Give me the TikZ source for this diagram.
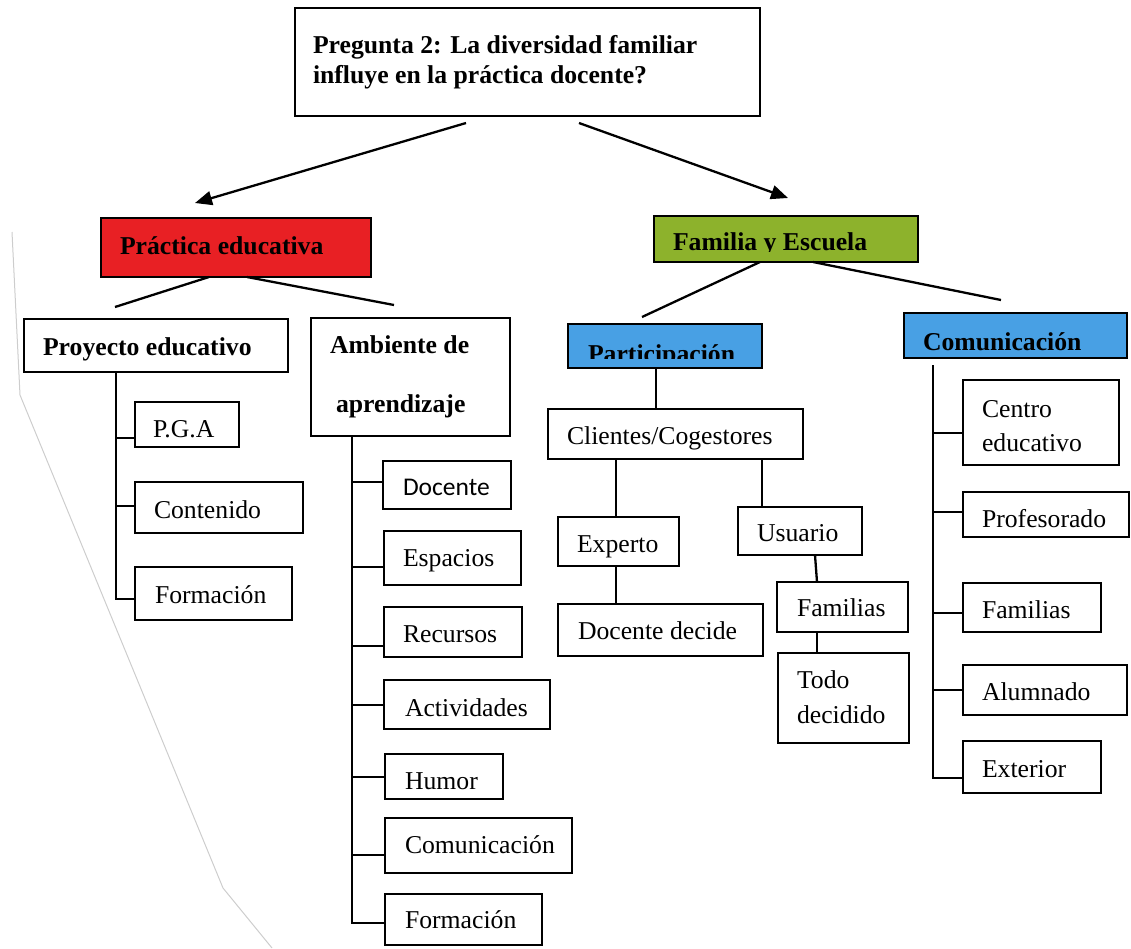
\documentclass[tikz,border=0pt]{standalone}
\usepackage{fontspec}
\setmainfont{Liberation Serif}
\newfontfamily\calfont{Carlito}
\usetikzlibrary{arrows.meta}
\definecolor{cred}{RGB}{232,32,36}
\definecolor{cgreen}{RGB}{141,178,44}
\definecolor{cblue}{RGB}{72,160,228}
\definecolor{cscan}{RGB}{205,205,205}
\newcommand\mkbox[6][]{%
  \node[boxst,#1,minimum width={#5-#3},minimum height={#6-#4}] (#2) at ({(#3+#5)/2},{(#4+#6)/2}) {};}
\begin{document}
\begin{tikzpicture}[x=1pt,y=-1pt,
  boxst/.style={draw=black,line width=2.2pt,inner sep=0pt,outer sep=0pt,fill=white},
  conn/.style={draw=black,line width=2.3pt},
  arr/.style={conn,-{Triangle[length=17pt,width=14pt]}},
  txt/.style={anchor=base west,inner sep=0pt,outer sep=0pt,font=\fontsize{25.7}{29.6}\selectfont},
  txtb/.style={txt,font=\fontsize{25.7}{29.6}\selectfont\bfseries},
  txts/.style={txt,font=\fontsize{25.5}{29}\selectfont\calfont}]
\useasboundingbox (0,0) rectangle (1131,948);
% scan edge
\draw[cscan,line width=1pt] (12,232) -- (20,395) -- (223,888) -- (272,948);
% title
\mkbox{title}{295}{8}{760}{116}
\node[txtb] (t1) at (313,53) {Pregunta 2: La diversidad familiar};
\node[txtb] (t2) at (313,83) {influye en la práctica docente?};
\coordinate (as1) at (466,123); \coordinate (ae1) at (195,203);
\coordinate (as2) at (579,123); \coordinate (ae2) at (788,198);
\draw[arr] (as1) -- (ae1);
\draw[arr] (as2) -- (ae2);
% Practica educativa
\mkbox[fill=cred]{pe}{101}{218}{371}{277}
\node[txtb] (tpe) at (120,254) {Práctica educativa};
\coordinate (pe1) at (209,277); \coordinate (pe1e) at (115,307);
\coordinate (pe2) at (247,277); \coordinate (pe2e) at (394,305);
\draw[conn] (pe1) -- (pe1e);
\draw[conn] (pe2) -- (pe2e);
% Proyecto educativo
\mkbox{proy}{24}{319}{288}{372}
\node[txtb] (tproy) at (43,355) {Proyecto educativo};
\mkbox{pga}{135}{402}{239}{447}
\node[txt] (tpga) at (153,437) {P.G.A};
\mkbox{cont}{135}{482}{303}{533}
\node[txt] (tcont) at (154,518) {Contenido};
\mkbox{form}{135}{567}{292}{620}
\node[txt] (tform) at (155,603) {Formación};
\coordinate (pv) at (116,372);
\draw[conn] (pv) |- (form.west |- 0,599);
\draw[conn] (pv |- 0,438) -- (pga.west |- 0,438);
\draw[conn] (pv |- 0,506) -- (cont.west |- 0,506);
% Ambiente de aprendizaje
\mkbox{amb}{311}{318}{510}{436}
\node[txtb] (tamb1) at (330,353) {Ambiente de};
\node[txtb] (tamb2) at (336,412) {aprendizaje};
\mkbox{doc}{383}{461}{511}{509}
\node[txts] (tdoc) at (403,495) {Docente};
\mkbox{esp}{384}{531}{521}{585}
\node[txt] (tesp) at (403,566) {Espacios};
\mkbox{rec}{384}{607}{522}{657}
\node[txt] (trec) at (403,642) {Recursos};
\mkbox{act}{384}{680}{550}{729}
\node[txt] (tact) at (405,716) {Actividades};
\mkbox{hum}{385}{754}{503}{799}
\node[txt] (thum) at (405,789) {Humor};
\mkbox{com}{385}{818}{572}{873}
\node[txt] (tcom) at (405,853) {Comunicación};
\mkbox{for2}{385}{894}{542}{945}
\node[txt] (tfor2) at (405,928) {Formación};
\coordinate (av) at (352,436);
\draw[conn] (av) |- (for2.west |- 0,923);
\draw[conn] (av |- 0,482) -- (doc.west |- 0,482);
\draw[conn] (av |- 0,567) -- (esp.west |- 0,567);
\draw[conn] (av |- 0,646) -- (rec.west |- 0,646);
\draw[conn] (av |- 0,705) -- (act.west |- 0,705);
\draw[conn] (av |- 0,777) -- (hum.west |- 0,777);
\draw[conn] (av |- 0,855) -- (com.west |- 0,855);
% Familia y Escuela
\mkbox[fill=cgreen]{fe}{654}{216}{918}{262}
\begin{scope}
\clip (654,216) rectangle (918,251.5);
\node[txtb] (tfe) at (673,250) {Familia y Escuela};
\end{scope}
\coordinate (fe1) at (760,262); \coordinate (fe1e) at (642,317);
\coordinate (fe2) at (813,262); \coordinate (fe2e) at (1001,300);
\draw[conn] (fe1) -- (fe1e);
\draw[conn] (fe2) -- (fe2e);
% Participacion
\mkbox[fill=cblue]{part}{568}{324}{762}{368}
\begin{scope}
\clip (568,324) rectangle (762,358.5);
\node[txtb] (tpart) at (588,362) {Participación};
\end{scope}
\mkbox{cli}{548}{409}{803}{459}
\node[txt] (tcli) at (567,444) {Clientes/Cogestores};
\draw[conn] (part.south -| 656,0) -- (cli.north -| 656,0);
\mkbox{exp}{558}{517}{679}{566}
\node[txt] (texp) at (577,552) {Experto};
\mkbox{usu}{738}{507}{862}{555}
\node[txt] (tusu) at (757,541) {Usuario};
\draw[conn] (cli.south -| 616,0) -- (exp.north -| 616,0);
\draw[conn] (cli.south -| 762,0) -- (usu.north -| 762,0);
\mkbox{dd}{558}{604}{763}{656}
\node[txt] (tdd) at (578,639) {Docente decide};
\draw[conn] (exp.south -| 616,0) -- (dd.north -| 616,0);
\mkbox{fam}{777}{582}{908}{632}
\node[txt] (tfam) at (797,616) {Familias};
\draw[conn] (usu.south -| 815,0) -- (fam.north -| 817,0);
\mkbox{todo}{778}{653}{909}{743}
\node[txt] (ttodo1) at (797,688) {Todo};
\node[txt] (ttodo2) at (797,723) {decidido};
\draw[conn] (fam.south -| 817,0) -- (todo.north -| 817,0);
% Comunicacion
\mkbox[fill=cblue]{comu}{904}{313}{1127}{358}
\node[txtb] (tcomu) at (923,350) {Comunicación};
\mkbox{cen}{963}{380}{1119}{465}
\node[txt] (tcen1) at (982,417) {Centro};
\node[txt] (tcen2) at (982,451) {educativo};
\mkbox{prof}{963}{492}{1129}{537}
\node[txt] (tprof) at (982,527) {Profesorado};
\mkbox{fam2}{963}{583}{1101}{632}
\node[txt] (tfam2) at (982,618) {Familias};
\mkbox{alu}{963}{665}{1127}{715}
\node[txt] (talu) at (982,700) {Alumnado};
\mkbox{ext}{963}{741}{1101}{793}
\node[txt] (text) at (982,777) {Exterior};
\coordinate (cv) at (933,365);
\draw[conn] (cv) |- (ext.west |- 0,778);
\draw[conn] (cv |- 0,433) -- (cen.west |- 0,433);
\draw[conn] (cv |- 0,512) -- (prof.west |- 0,512);
\draw[conn] (cv |- 0,613) -- (fam2.west |- 0,613);
\draw[conn] (cv |- 0,690) -- (alu.west |- 0,690);
\end{tikzpicture}
\end{document}
